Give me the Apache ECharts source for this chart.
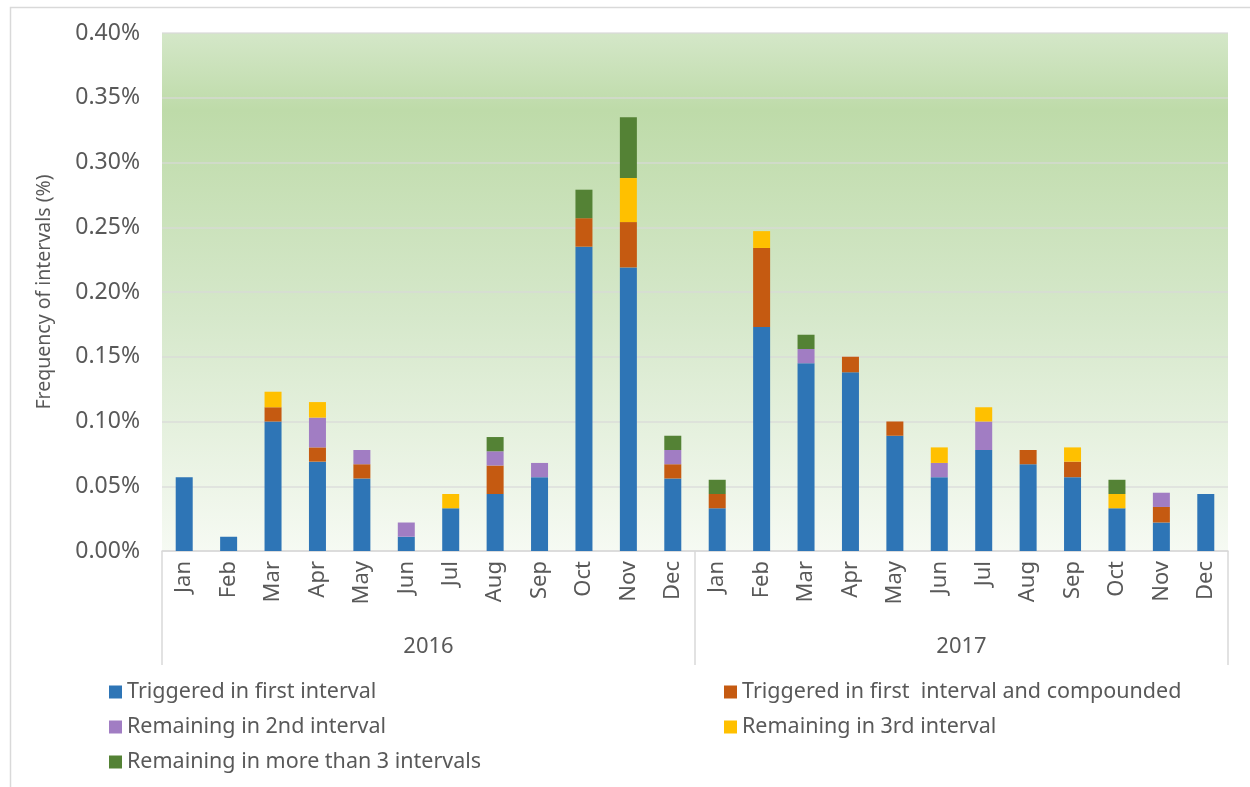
<!DOCTYPE html>
<html>
<head>
<meta charset="utf-8">
<script src="https://cdn.jsdelivr.net/npm/echarts@6/dist/echarts.min.js"></script>
<style>
  html, body { margin: 0; padding: 0; background: #fff; }
  #chart { width: 1250px; height: 787px; }
</style>
</head>
<body>
<div id="chart"></div>
<script>
// categories
const months = ['Jan', 'Feb', 'Mar', 'Apr', 'May', 'Jun', 'Jul', 'Aug', 'Sep', 'Oct', 'Nov', 'Dec',
                'Jan', 'Feb', 'Mar', 'Apr', 'May', 'Jun', 'Jul', 'Aug', 'Sep', 'Oct', 'Nov', 'Dec'];
const years = ['2016', '2017'];
const yTicks = [0, 0.05, 0.10, 0.15, 0.20, 0.25, 0.30, 0.35, 0.40];

// series values (frequency, %)
const firstInterval = [0.057, 0.011, 0.100, 0.069, 0.056, 0.011, 0.033, 0.044, 0.057, 0.235, 0.219, 0.056,
                       0.033, 0.173, 0.145, 0.138, 0.089, 0.057, 0.078, 0.067, 0.057, 0.033, 0.022, 0.044];
const compounded = [0, 0, 0.011, 0.011, 0.011, 0, 0, 0.022, 0, 0.022, 0.035, 0.011,
                    0.011, 0.061, 0, 0.012, 0.011, 0, 0, 0.011, 0.012, 0, 0.012, 0];
const secondInterval = [0, 0, 0, 0.023, 0.011, 0.011, 0, 0.011, 0.011, 0, 0, 0.011,
                        0, 0, 0.011, 0, 0, 0.011, 0.022, 0, 0, 0, 0.011, 0];
const thirdInterval = [0, 0, 0.012, 0.012, 0, 0, 0.011, 0, 0, 0, 0.034, 0,
                       0, 0.013, 0, 0, 0, 0.012, 0.011, 0, 0.011, 0.011, 0, 0];
const moreThan3 = [0, 0, 0, 0, 0, 0, 0, 0.011, 0, 0.022, 0.047, 0.011,
                   0.011, 0, 0.011, 0, 0, 0, 0, 0, 0, 0.011, 0, 0];

const seriesNames = [
  'Triggered in first interval',
  'Triggered in first  interval and compounded',
  'Remaining in 2nd interval',
  'Remaining in 3rd interval',
  'Remaining in more than 3 intervals',
];
const seriesData = [firstInterval, compounded, secondInterval, thirdInterval, moreThan3];
const colors = ['#2E75B6', '#C55A11', '#A17DC3', '#FFC000', '#548235'];

const FONT = '"Noto Sans", "Open Sans", sans-serif';
const TEXT = '#595959';

const chart = echarts.init(document.getElementById('chart'));

const option = {
  animation: false,
  textStyle: { fontFamily: FONT },
  graphic: [
    {
      type: 'rect',
      left: 8, top: 5,
      shape: { width: 1300, height: 800 },
      style: { fill: 'none', stroke: '#D9D9D9', lineWidth: 1.5 },
      silent: true,
    },
  ],
  grid: {
    left: 162, right: 22, top: 33, bottom: 236,
    show: true,
    borderWidth: 0,
    backgroundColor: {
      type: 'linear', x: 0, y: 0, x2: 0, y2: 1,
      colorStops: [
        { offset: 0, color: '#D4E7C8' },
        { offset: 0.15, color: '#BEDBA9' },
        { offset: 0.55, color: '#D6E8CB' },
        { offset: 1, color: '#F6FAF3' },
      ],
    },
  },
  legend: [
    {
      data: [seriesNames[0], seriesNames[2], seriesNames[4]],
      orient: 'vertical',
      left: 104, top: 676,
      itemWidth: 13, itemHeight: 13, itemGap: 13,
      icon: 'rect',
      textStyle: { fontSize: 21.5, color: TEXT, fontFamily: FONT },
    },
    {
      data: [seriesNames[1], seriesNames[3]],
      orient: 'vertical',
      left: 719, top: 676,
      itemWidth: 13, itemHeight: 13, itemGap: 13,
      icon: 'rect',
      textStyle: { fontSize: 21.5, color: TEXT, fontFamily: FONT },
    },
  ],
  xAxis: [
    {
      type: 'category',
      data: months,
      axisLine: { lineStyle: { color: '#D9D9D9', width: 1.5 } },
      axisTick: { show: false },
      axisLabel: { rotate: 90, fontSize: 22, color: TEXT, margin: 10, interval: 0 },
    },
    {
      type: 'category',
      data: years,
      position: 'bottom',
      axisLine: { show: false },
      axisTick: { show: true, length: 114, lineStyle: { color: '#D9D9D9', width: 1.5 } },
      axisLabel: { fontSize: 22, color: TEXT, margin: 85 },
      splitLine: { show: false },
    },
  ],
  yAxis: {
    type: 'value',
    min: yTicks[0],
    max: yTicks[yTicks.length - 1],
    interval: 0.05,
    name: 'Frequency of intervals (%)',
    nameLocation: 'middle',
    nameGap: 108,
    nameTextStyle: { fontSize: 19.5, color: TEXT },
    axisLine: { show: false },
    axisTick: { show: false },
    axisLabel: {
      fontSize: 23, color: TEXT, margin: 22,
      formatter: v => v.toFixed(2) + '%',
    },
    splitLine: { lineStyle: { color: 'rgba(217,217,217,0.8)', width: 1.5 } },
  },
  series: seriesNames.map((name, i) => ({
    name,
    type: 'bar',
    stack: 'total',
    xAxisIndex: 0,
    barWidth: 17,
    data: seriesData[i],
    itemStyle: { color: colors[i] },
  })),
};

chart.setOption(option);
</script>
</body>
</html>
